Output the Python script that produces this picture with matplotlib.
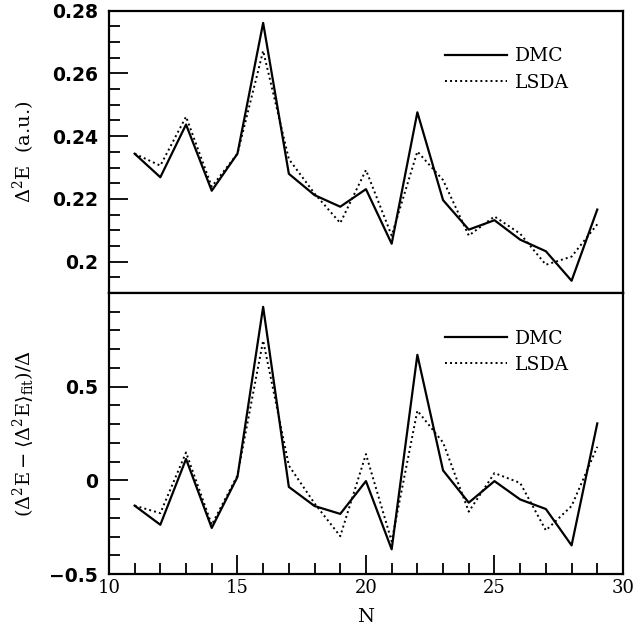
import numpy as np
import matplotlib
matplotlib.use('Agg')
import matplotlib.pyplot as plt
from matplotlib.ticker import MultipleLocator

plt.rcParams['font.family'] = 'DejaVu Serif'
plt.rcParams['mathtext.fontset'] = 'dejavuserif'
plt.rcParams['font.size'] = 13

# electron number
N = list(range(11, 30))

# second energy difference (a.u.)
dmc_top = [0.2344, 0.2269, 0.2437, 0.2226, 0.2344, 0.2761, 0.2280, 0.2212, 0.2175, 0.2231,
           0.2057, 0.2476, 0.2196, 0.2102, 0.2132, 0.2070, 0.2033, 0.1939, 0.2166]
lsda_top = [0.2344, 0.2306, 0.2462, 0.2239, 0.2344, 0.2672, 0.2327, 0.2217, 0.2123, 0.2292,
            0.2083, 0.2351, 0.2260, 0.2083, 0.2144, 0.2089, 0.1990, 0.2016, 0.2119]

# deviation from fit, scaled
dmc_bot = [-0.135, -0.237, 0.114, -0.254, 0.018, 0.926, -0.035, -0.137, -0.179, -0.004,
           -0.368, 0.670, 0.053, -0.119, -0.004, -0.102, -0.153, -0.347, 0.304]
lsda_bot = [-0.135, -0.175, 0.149, -0.237, 0.026, 0.746, 0.079, -0.123, -0.298, 0.140,
            -0.325, 0.372, 0.202, -0.167, 0.039, -0.014, -0.267, -0.137, 0.179]

fig = plt.figure(figsize=(6.37, 6.35), dpi=100)
ax1 = fig.add_axes([0.171, 0.5386, 0.807, 0.4446])
ax2 = fig.add_axes([0.171, 0.096, 0.807, 0.4426])

for ax, d, l in [(ax1, dmc_top, lsda_top), (ax2, dmc_bot, lsda_bot)]:
    ax.plot(N, d, color='black', lw=1.6, ls='-', label='DMC')
    ax.plot(N, l, color='black', lw=1.4, ls=(0, (1, 1.6)), label='LSDA')
    ax.set_xlim(10, 30)
    for s in ax.spines.values():
        s.set_linewidth(1.6)
    ax.tick_params(which='both', direction='in', width=1.3, top=False, right=False)
    ax.tick_params(which='major', length=14)
    ax.tick_params(which='minor', length=8)
    ax.tick_params(axis='y', which='major', pad=8)
    # legend without frame, top right
    ax.legend(frameon=False, loc='upper right', bbox_to_anchor=(0.928, 0.93),
              handlelength=3.3, handletextpad=0.45, labelspacing=0.45, fontsize=13.5)

ax1.set_ylim(0.19, 0.28)
ax1.set_yticks([0.2, 0.22, 0.24, 0.26, 0.28])
ax1.set_yticklabels(['0.2', '0.22', '0.24', '0.26', '0.28'],
                    fontfamily='DejaVu Sans', fontweight='bold', fontsize=13.5)
ax1.yaxis.set_minor_locator(MultipleLocator(0.005))
ax1.tick_params(axis='x', which='both', bottom=False, labelbottom=False)
ax1.set_ylabel(r'$\Delta^2$E  (a.u.)', fontsize=14)

ax2.set_ylim(-0.5, 1.0)
ax2.set_yticks([-0.5, 0, 0.5])
ax2.set_yticklabels(['\u22120.5', '0', '0.5'],
                    fontfamily='DejaVu Sans', fontweight='bold', fontsize=13.5)
ax2.yaxis.set_minor_locator(MultipleLocator(0.1))
ax2.set_xticks([10, 15, 20, 25, 30])
ax2.xaxis.set_minor_locator(MultipleLocator(1))
ax2.tick_params(axis='x', labelsize=13)
ax2.set_xlabel('N', fontsize=14, labelpad=8)
ax2.set_ylabel(r'$(\Delta^2\mathrm{E}-\langle\Delta^2\mathrm{E}\rangle_{\mathrm{fit}})/\Delta$', fontsize=14)

ax1.yaxis.set_label_coords(-0.14, 0.5)
ax2.yaxis.set_label_coords(-0.14, 0.5)

fig.savefig('out.png', dpi=100)
